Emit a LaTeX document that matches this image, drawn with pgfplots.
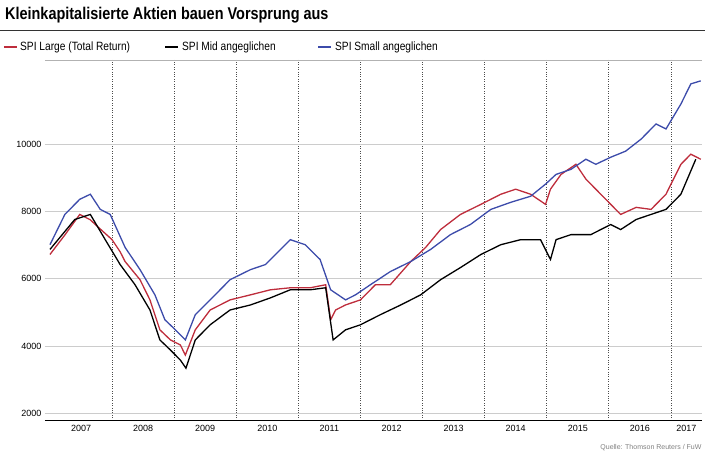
\documentclass[border=0pt]{standalone}
\usepackage{pgfplots}
\pgfplotsset{compat=1.18}
\usepackage{fontspec}
\setmainfont{Liberation Sans}
\definecolor{cred}{RGB}{190,45,60}
\definecolor{cblue}{RGB}{60,75,170}
\begin{document}
\begin{tikzpicture}[x=1pt,y=1pt]
\path[use as bounding box] (-45,-35) rectangle (660,420);
\begin{axis}[at={(0,0)},anchor=south west,scale only axis,width=657pt,height=360pt,
 xmin=2006.92,xmax=2017.5,ymin=1800,ymax=12500,
 axis line style={draw=none},
 xtick={2007.5,2008.5,2009.5,2010.5,2011.5,2012.5,2013.5,2014.5,2015.5,2016.5,2017.25},
 xticklabels={2007,2008,2009,2010,2011,2012,2013,2014,2015,2016,2017},
 minor xtick={2008,2009,2010,2011,2012,2013,2014,2015,2016,2017},
 xminorgrids, minor grid style={black!70,dotted,thick},
 major tick length=0pt, minor tick length=0pt,
 ytick={2000,4000,6000,8000,10000}, ymajorgrids, major grid style={gray!40},
 /pgf/number format/assume math mode=true,
 scaled y ticks=false, yticklabel style={/pgf/number format/1000 sep={}, font=\small},
 xticklabel style={font=\small,yshift=-2pt},
 clip=false]
\draw (axis cs:2006.92,1800) -- (axis cs:2017.5,1800);
\draw[gray!60] (axis cs:2006.92,12500) -- (axis cs:2017.5,12500);
\addplot[cred,line width=1.3pt] coordinates {(2007.0,6720)(2007.24,7300)(2007.48,7910)(2007.65,7750)(2007.73,7610)(2008.0,7160)(2008.13,6800)(2008.21,6510)(2008.45,5970)(2008.61,5370)(2008.77,4480)(2008.94,4180)(2009.10,4030)(2009.18,3730)(2009.34,4480)(2009.58,5070)(2009.90,5370)(2010.23,5520)(2010.55,5670)(2010.87,5730)(2011.19,5730)(2011.44,5820)(2011.52,4780)(2011.60,5070)(2011.76,5220)(2012.0,5370)(2012.24,5820)(2012.48,5820)(2012.81,6510)(2013.05,6930)(2013.29,7460)(2013.61,7910)(2013.94,8210)(2014.26,8510)(2014.50,8660)(2014.74,8510)(2014.98,8210)(2015.06,8660)(2015.23,9100)(2015.47,9400)(2015.63,8960)(2015.87,8510)(2016.03,8210)(2016.19,7910)(2016.44,8120)(2016.68,8060)(2016.92,8510)(2017.16,9400)(2017.32,9700)(2017.48,9550)};
\addplot[black,line width=1.3pt] coordinates {(2007.0,6870)(2007.40,7760)(2007.65,7910)(2007.89,7160)(2008.13,6420)(2008.37,5820)(2008.61,5070)(2008.77,4180)(2008.94,3880)(2009.10,3580)(2009.19,3340)(2009.34,4180)(2009.58,4630)(2009.90,5070)(2010.23,5220)(2010.55,5430)(2010.87,5670)(2011.19,5670)(2011.44,5730)(2011.56,4180)(2011.76,4480)(2012.0,4630)(2012.32,4930)(2012.65,5220)(2012.97,5520)(2013.29,5970)(2013.61,6330)(2013.94,6720)(2014.26,7010)(2014.58,7160)(2014.90,7160)(2015.06,6570)(2015.15,7160)(2015.39,7310)(2015.71,7310)(2016.03,7610)(2016.19,7460)(2016.44,7760)(2016.68,7910)(2016.92,8060)(2017.16,8510)(2017.40,9550)};
\addplot[cblue,line width=1.3pt] coordinates {(2007.0,7010)(2007.24,7910)(2007.48,8360)(2007.65,8510)(2007.81,8060)(2007.97,7910)(2008.21,6930)(2008.45,6270)(2008.69,5520)(2008.85,4780)(2009.02,4480)(2009.18,4180)(2009.34,4930)(2009.58,5370)(2009.90,5970)(2010.23,6270)(2010.47,6420)(2010.87,7160)(2011.11,7010)(2011.35,6570)(2011.52,5670)(2011.76,5370)(2011.92,5520)(2012.16,5820)(2012.48,6210)(2012.81,6510)(2013.13,6870)(2013.45,7310)(2013.77,7610)(2014.10,8060)(2014.42,8270)(2014.74,8450)(2014.98,8810)(2015.15,9100)(2015.39,9250)(2015.63,9550)(2015.79,9400)(2016.03,9610)(2016.27,9790)(2016.52,10150)(2016.76,10600)(2016.92,10450)(2017.16,11190)(2017.32,11790)(2017.48,11880)};
\end{axis}
\node[anchor=west,font=\bfseries\fontsize{17}{19}\selectfont,xscale=0.85,inner sep=0pt] at (-40,405) {Kleinkapitalisierte Aktien bauen Vorsprung aus};
\draw[black!80,line width=1pt] (-45,389) -- (660,389);
\draw[cred,line width=2pt] (-41,373) -- (-28,373);
\node[anchor=west,font=\fontsize{12}{14}\selectfont,xscale=0.85,inner sep=0pt] at (-25,373) {SPI Large (Total Return)};
\draw[black,line width=2pt] (120,373) -- (133,373);
\node[anchor=west,font=\fontsize{12}{14}\selectfont,xscale=0.85,inner sep=0pt] at (137,373) {SPI Mid angeglichen};
\draw[cblue,line width=2pt] (273,373) -- (286,373);
\node[anchor=west,font=\fontsize{12}{14}\selectfont,xscale=0.85,inner sep=0pt] at (290,373) {SPI Small angeglichen};
\node[anchor=east,font=\scriptsize,gray] at (660,-28) {Quelle: Thomson Reuters / FuW};
\end{tikzpicture}
\end{document}
